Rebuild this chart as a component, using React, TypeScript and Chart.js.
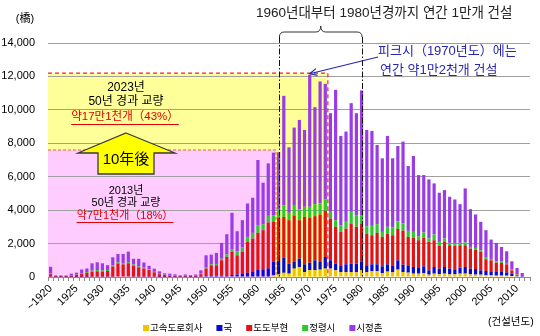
import React, { useEffect, useRef } from 'react';
import { Chart, registerables } from 'chart.js';

Chart.register(...registerables);

// ---------- data ----------
const years = [
  1920, 1921, 1922, 1923, 1924, 1925, 1926, 1927, 1928, 1929,
  1930, 1931, 1932, 1933, 1934, 1935, 1936, 1937, 1938, 1939,
  1940, 1941, 1942, 1943, 1944, 1945, 1946, 1947, 1948, 1949,
  1950, 1951, 1952, 1953, 1954, 1955, 1956, 1957, 1958, 1959,
  1960, 1961, 1962, 1963, 1964, 1965, 1966, 1967, 1968, 1969,
  1970, 1971, 1972, 1973, 1974, 1975, 1976, 1977, 1978, 1979,
  1980, 1981, 1982, 1983, 1984, 1985, 1986, 1987, 1988, 1989,
  1990, 1991, 1992, 1993, 1994, 1995, 1996, 1997, 1998, 1999,
  2000, 2001, 2002, 2003, 2004, 2005, 2006, 2007, 2008, 2009,
  2010, 2011, 2012,
];
const yearLabels = years.map((y, i) => (i === 0 ? '~' + y : String(y)));

const seriesNames = ['고속도로회사', '국', '도도부현', '정령시', '시정촌'];
const seriesColors = ['#F2C200', '#0A0ACC', '#E01414', '#2EC82E', '#9A3CE6'];

const highwayCo = [
  0, 0, 0, 0, 0, 0, 0, 0, 0, 0,
  0, 0, 0, 0, 0, 0, 0, 0, 0, 0,
  0, 0, 0, 0, 0, 0, 0, 0, 0, 0,
  0, 0, 0, 0, 0, 0, 0, 0, 0, 0,
  0, 0, 0, 100, 150, 250, 200, 500, 600, 300,
  400, 400, 440, 500, 500, 400, 300, 300, 300, 300,
  400, 300, 340, 360, 240, 320, 280, 440, 300, 260,
  200, 200, 240, 140, 200, 160, 200, 160, 160, 200,
  200, 160, 140, 140, 100, 100, 80, 80, 80, 60,
  40, 0, 0,
];
const national = [
  20, 10, 10, 10, 10, 10, 10, 10, 20, 20,
  20, 20, 20, 30, 30, 30, 20, 20, 20, 20,
  20, 10, 10, 10, 10, 10, 10, 10, 10, 20,
  60, 60, 70, 80, 100, 120, 150, 180, 250, 300,
  420, 460, 520, 800, 820, 920, 600, 400, 500, 460,
  460, 600, 460, 700, 500, 400, 400, 460, 500, 500,
  500, 400, 420, 400, 400, 440, 420, 560, 440, 440,
  400, 340, 400, 260, 400, 340, 400, 340, 300, 360,
  400, 340, 340, 260, 260, 240, 220, 220, 200, 140,
  40, 20, 0,
];
const prefectures = [
  150, 50, 50, 50, 80, 120, 180, 240, 280, 320,
  300, 340, 600, 780, 720, 790, 660, 560, 490, 400,
  260, 160, 110, 80, 60, 40, 60, 50, 50, 150,
  440, 640, 630, 920, 1100, 1380, 1150, 1320, 1850, 2000,
  2220, 2340, 2740, 2400, 2590, 2430, 2600, 2780, 2300, 2840,
  2700, 2640, 2840, 2760, 2500, 2200, 2000, 2140, 2400, 2200,
  2300, 1900, 1740, 1880, 1760, 1840, 1800, 1880, 2040, 1700,
  1760, 1660, 1700, 1700, 1600, 1360, 1500, 1400, 1400, 1340,
  1300, 1200, 1160, 1100, 700, 660, 560, 540, 480, 200,
  60, 0, 0,
];
const designatedCities = [
  40, 10, 10, 10, 20, 20, 40, 50, 80, 80,
  70, 60, 80, 80, 80, 80, 70, 60, 50, 40,
  30, 20, 20, 10, 10, 10, 10, 10, 10, 30,
  60, 60, 80, 100, 150, 140, 240, 260, 300, 340,
  460, 360, 400, 400, 480, 680, 440, 580, 640, 600,
  640, 720, 660, 680, 400, 400, 400, 400, 700, 700,
  500, 440, 560, 520, 300, 400, 460, 440, 420, 360,
  340, 240, 320, 200, 340, 240, 200, 140, 140, 140,
  160, 100, 100, 100, 100, 80, 80, 80, 80, 40,
  20, 0, 0,
];
const municipalities = [
  400, 30, 30, 30, 90, 110, 220, 210, 440, 460,
  430, 290, 480, 490, 550, 620, 340, 450, 310, 210,
  190, 150, 80, 100, 80, 40, 70, 50, 80, 200,
  740, 580, 660, 940, 1210, 2200, 1200, 1640, 2000, 2100,
  3900, 2480, 3140, 3740, 3420, 6560, 3920, 4680, 5360, 4600,
  7900, 5800, 7300, 6920, 5900, 7800, 5340, 5400, 6500, 6100,
  7460, 5760, 5680, 4740, 4400, 5440, 4140, 4520, 4900, 3880,
  4540, 3660, 3440, 3540, 3060, 2940, 2900, 2760, 2640, 2320,
  3240, 2260, 2000, 1700, 1640, 1160, 1100, 880, 700, 500,
  380, 220, 0,
];
const seriesValues = [highwayCo, national, prefectures, designatedCities, municipalities];

const yTicks = [0, 2000, 4000, 6000, 8000, 10000, 12000, 14000];

// annotation values
const peakYear = 1970;
const peakValue = 12100;
const boxTopValue = 12200;
const boxMidValue = 7600;
const yellowFromYear = 1974; // yellow region ends before this year
const pinkFromYear = 1964; // pink region ends before this year
const bracketStartYear = 1964;
const bracketEndYear = 1980;

const FONT = "'Liberation Sans', 'Noto Sans CJK KR', sans-serif";
const FONT_JP = "'Liberation Sans', 'Noto Sans CJK JP', sans-serif";

function txt(ctx: CanvasRenderingContext2D, s: string, x: number, y: number, size: number, color: string, align: CanvasTextAlign = 'center', family = FONT) {
  ctx.font = `${size}px ${family}`;
  ctx.fillStyle = color;
  ctx.textAlign = align;
  ctx.textBaseline = 'middle';
  ctx.fillText(s, x, y);
  return ctx.measureText(s).width;
}

function underlined(ctx: CanvasRenderingContext2D, s: string, cx: number, y: number, size: number, color: string, uy: number) {
  const w = txt(ctx, s, cx, y, size, color);
  ctx.beginPath();
  ctx.strokeStyle = color;
  ctx.lineWidth = 1;
  ctx.moveTo(cx - w / 2, uy + 0.5);
  ctx.lineTo(cx + w / 2, uy + 0.5);
  ctx.stroke();
}

const annotations = {
  id: 'annotations',
  beforeDraw(chart: any) {
    const { ctx, chartArea, scales } = chart;
    const x = scales.x, y = scales.y;
    const half = (x.getPixelForValue(1) - x.getPixelForValue(0)) / 2;
    const left = chartArea.left;
    const y0 = y.getPixelForValue(0);
    const yTop = y.getPixelForValue(boxTopValue);
    const yMid = y.getPixelForValue(boxMidValue);
    const xYel = x.getPixelForValue(years.indexOf(yellowFromYear)) - half;
    const xPink = x.getPixelForValue(years.indexOf(pinkFromYear)) - half;
    ctx.save();
    ctx.fillStyle = '#FFFF99';
    ctx.fillRect(left, yTop, xYel - left, y0 - yTop);
    ctx.fillStyle = '#FFCCFF';
    ctx.fillRect(left, yMid, xPink - left, y0 - yMid);
    ctx.restore();
  },
  afterDatasetsDraw(chart: any) {
    const { ctx, chartArea, scales } = chart;
    const x = scales.x, y = scales.y;
    const step = x.getPixelForValue(1) - x.getPixelForValue(0);
    const half = step / 2;
    const left = chartArea.left;
    const y0 = y.getPixelForValue(0);
    const yTop = y.getPixelForValue(boxTopValue);
    const yMid = y.getPixelForValue(boxMidValue);
    const xYel = x.getPixelForValue(years.indexOf(yellowFromYear)) - half;
    const xPink = x.getPixelForValue(years.indexOf(pinkFromYear)) - half;
    ctx.save();

    // red dashed box (peak level)
    ctx.strokeStyle = '#FF2020';
    ctx.lineWidth = 1.2;
    ctx.setLineDash([4, 3]);
    ctx.beginPath();
    ctx.moveTo(left, yTop);
    ctx.lineTo(xYel, yTop);
    ctx.lineTo(xYel, y0);
    ctx.stroke();

    // orange dashed (2013 line)
    ctx.strokeStyle = '#E46C0A';
    ctx.lineWidth = 1;
    ctx.setLineDash([3, 2]);
    ctx.beginPath();
    ctx.moveTo(left, yMid);
    ctx.lineTo(xPink, yMid);
    ctx.lineTo(xPink, y0);
    ctx.stroke();

    // dash-dot lines
    const xL = x.getPixelForValue(years.indexOf(bracketStartYear)) + step * 0.15;
    const xR = x.getPixelForValue(years.indexOf(bracketEndYear)) + step * 0.1;
    ctx.strokeStyle = '#111';
    ctx.lineWidth = 1;
    ctx.setLineDash([6, 2, 1.5, 2]);
    [xL, xR].forEach((xx) => {
      ctx.beginPath();
      ctx.moveTo(Math.round(xx) + 0.5, 37);
      ctx.lineTo(Math.round(xx) + 0.5, y0);
      ctx.stroke();
    });
    ctx.setLineDash([]);

    // curly bracket
    const xm = (xL + xR) / 2;
    ctx.strokeStyle = '#333';
    ctx.lineWidth = 1;
    ctx.beginPath();
    ctx.moveTo(xL, 37);
    ctx.quadraticCurveTo(xL, 32, xL + 5, 32);
    ctx.lineTo(xm - 5, 32);
    ctx.quadraticCurveTo(xm, 32, xm, 26);
    ctx.quadraticCurveTo(xm, 32, xm + 5, 32);
    ctx.lineTo(xR - 5, 32);
    ctx.quadraticCurveTo(xR, 32, xR, 37);
    ctx.stroke();

    // blue arrow to the peak
    const px = x.getPixelForValue(years.indexOf(peakYear));
    const py = y.getPixelForValue(peakValue) - 1;
    const sx = 378, sy = 57;
    ctx.strokeStyle = '#2626B0';
    ctx.lineWidth = 1.2;
    ctx.beginPath();
    ctx.moveTo(sx, sy);
    ctx.lineTo(px, py);
    ctx.stroke();
    const ang = Math.atan2(py - sy, px - sx);
    ctx.beginPath();
    ctx.moveTo(px - 8 * Math.cos(ang - 0.45), py - 8 * Math.sin(ang - 0.45));
    ctx.lineTo(px, py);
    ctx.lineTo(px - 8 * Math.cos(ang + 0.45), py - 8 * Math.sin(ang + 0.45));
    ctx.stroke();

    // big yellow arrow "10年後"
    ctx.beginPath();
    ctx.moveTo(126, 133);
    ctx.lineTo(175, 153);
    ctx.lineTo(154, 153);
    ctx.lineTo(154, 174);
    ctx.lineTo(98, 174);
    ctx.lineTo(98, 153);
    ctx.lineTo(78, 153);
    ctx.closePath();
    ctx.fillStyle = '#FFFF00';
    ctx.fill();
    ctx.strokeStyle = '#3A3A3A';
    ctx.lineWidth = 1.3;
    ctx.stroke();
    txt(ctx, '10年後', 126, 160, 15, '#000', 'center', FONT_JP);

    // yellow box text
    txt(ctx, '2023년', 126, 88, 12, '#000');
    txt(ctx, '50년 경과 교량', 126, 102, 12, '#000');
    underlined(ctx, '약17만1천개（43%）', 125, 117, 11.5, '#E00000', 124);

    // pink box text
    txt(ctx, '2013년', 126, 191, 11, '#000');
    txt(ctx, '50년 경과 교량', 126, 203, 11, '#000');
    underlined(ctx, '약7만1천개（18%）', 125, 216, 11, '#E00000', 222);

    // header text
    txt(ctx, '1960년대부터 1980년경까지 연간 1만개 건설', 256, 13, 13.5, '#222', 'left');
    txt(ctx, '피크시（1970년도）에는', 378, 51, 13, '#2626B0', 'left');
    txt(ctx, '연간 약1만2천개 건설', 380, 70, 13, '#2626B0', 'left');

    ctx.restore();
  },
  afterDraw(chart: any) {
    const { ctx } = chart;
    ctx.save();
    // unit labels
    txt(ctx, '(橋)', 25, 19, 11, '#000', 'center', FONT_JP);
    txt(ctx, '(건설년도)', 488, 322, 10.5, '#000', 'left');
    // legend
    let lx = 143;
    const ly = 328;
    chart.data.datasets.forEach((ds: any) => {
      ctx.fillStyle = ds.backgroundColor;
      ctx.fillRect(lx, ly - 3, 6, 6);
      const w = txt(ctx, ds.label, lx + 7, ly, 9.5, '#000', 'left');
      lx += 7 + w + 14;
    });
    ctx.restore();
  },
};

export default function App() {
  const canvasRef = useRef<HTMLCanvasElement | null>(null);

  useEffect(() => {
    const canvas = canvasRef.current;
    if (!canvas) return;
    const chart = new Chart(canvas, {
      type: 'bar',
      data: {
        labels: yearLabels,
        datasets: seriesNames.map((name, i) => ({
          label: name,
          data: seriesValues[i],
          backgroundColor: seriesColors[i],
          borderWidth: 0,
          categoryPercentage: 1,
          barPercentage: 0.62,
        })),
      },
      options: {
        animation: false,
        responsive: false,
        maintainAspectRatio: false,
        layout: { padding: { top: 43, right: 10, left: 0, bottom: 0 } },
        plugins: {
          legend: { display: false },
          tooltip: { enabled: false },
        },
        scales: {
          x: {
            stacked: true,
            grid: { display: true, drawOnChartArea: false, drawTicks: true, tickLength: 4, color: '#8C8C8C', offset: true },
            border: { display: true, color: '#8C8C8C' },
            ticks: {
              autoSkip: false,
              maxRotation: 45,
              minRotation: 45,
              padding: 1,
              color: '#000',
              font: { family: FONT, size: 11 },
              callback: (_v: any, i: number) => (years[i] % 5 === 0 ? yearLabels[i] : ''),
            },
            afterFit: (s: any) => { s.height = 59; },
          },
          y: {
            stacked: true,
            min: yTicks[0],
            max: yTicks[yTicks.length - 1],
            grid: { color: '#A0A0A0', drawTicks: false, lineWidth: 1 },
            border: { display: false },
            ticks: {
              stepSize: yTicks[1] - yTicks[0],
              padding: 13,
              color: '#000',
              font: { family: FONT, size: 11 },
              callback: (v: any) => Number(v).toLocaleString('en-US'),
            },
            afterFit: (s: any) => { s.width = 48; },
          },
        },
      },
      plugins: [annotations],
    });
    return () => chart.destroy();
  }, []);

  return (
    <div style={{ position: 'absolute', left: 0, top: 0, width: 540, height: 336, background: '#fff' }}>
      <canvas ref={canvasRef} width={540} height={336} style={{ display: 'block' }} />
    </div>
  );
}
